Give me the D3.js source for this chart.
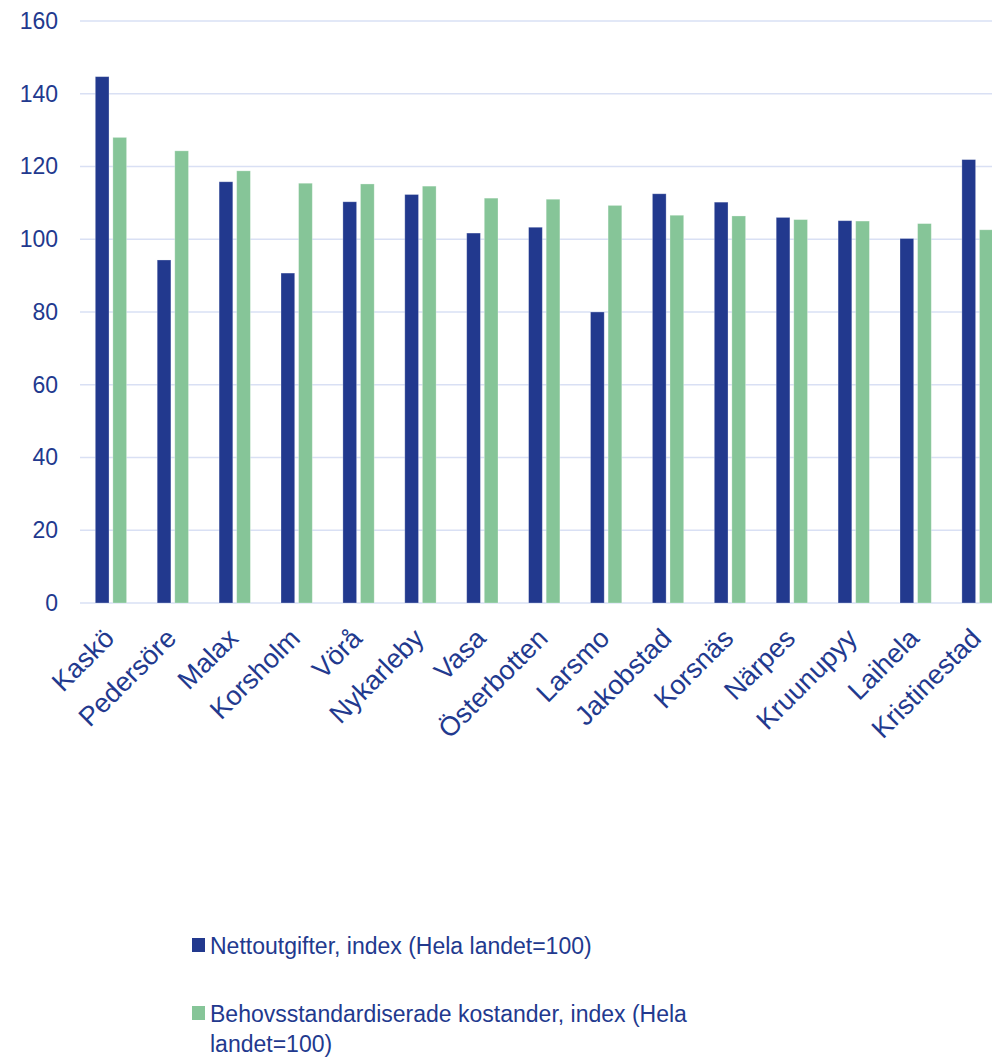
<!DOCTYPE html>
<html>
<head>
<meta charset="utf-8">
<script src="https://cdn.jsdelivr.net/npm/d3@7"></script>
<style>
  body { margin: 0; background: #ffffff; }
  svg { display: block; font-family: "Liberation Sans", Arial, sans-serif; }
</style>
</head>
<body>
<script>
// data
var categories = ["Kaskö", "Pedersöre", "Malax", "Korsholm", "Vörå", "Nykarleby", "Vasa",
  "Österbotten", "Larsmo", "Jakobstad", "Korsnäs", "Närpes", "Kruunupyy", "Laihela", "Kristinestad"];
var nettoutgifter = [144.7, 94.3, 115.8, 90.7, 110.3, 112.3, 101.7, 103.3, 80.0, 112.5, 110.2, 106.0, 105.1, 100.2, 121.9];
var behovs = [128.0, 124.3, 118.8, 115.4, 115.2, 114.6, 111.3, 111.0, 109.3, 106.6, 106.4, 105.4, 105.0, 104.3, 102.6];
var seriesNames = ["Nettoutgifter, index (Hela landet=100)",
  "Behovsstandardiserade kostander, index (Hela landet=100)"];
var seriesColors = ["#22398e", "#86c598"];
var yTicks = [0, 20, 40, 60, 80, 100, 120, 140, 160];

var W = 992, H = 1058;
var margin = {top: 21, left: 80, bottom: 455};
var plotW = 928.5, plotH = H - margin.top - margin.bottom;

var svg = d3.select("body").append("svg")
  .attr("width", W)
  .attr("height", H);

var g = svg.append("g")
  .attr("transform", "translate(" + margin.left + "," + margin.top + ")");

var x0 = d3.scaleBand().domain(categories).range([0, plotW]).padding(0);
var x1 = d3.scaleBand().domain([0, 1]).range([0, x0.bandwidth()])
  .paddingInner(0.22).paddingOuter(0.87);
var y = d3.scaleLinear().domain([0, 160]).range([plotH, 0]);

// gridlines
g.append("g")
  .selectAll("line")
  .data(yTicks)
  .enter().append("line")
  .attr("x1", 0)
  .attr("x2", W)
  .attr("y1", function(d) { return y(d); })
  .attr("y2", function(d) { return y(d); })
  .style("stroke", "#d9e0f4")
  .style("stroke-width", 1.5);

// y axis labels
var yAxis = g.append("g")
  .call(d3.axisLeft(y).tickValues(yTicks).tickSize(0).tickPadding(22));
yAxis.select(".domain").remove();
yAxis.selectAll("text")
  .style("font-size", "23px")
  .style("fill", "#22398e")
  .style("font-family", "'Liberation Sans', Arial, sans-serif");

// bars
var rows = categories.map(function(c, i) {
  return {cat: c, vals: [nettoutgifter[i], behovs[i]]};
});

var groups = g.selectAll(".grp")
  .data(rows)
  .enter().append("g")
  .attr("class", "grp")
  .attr("transform", function(d) { return "translate(" + x0(d.cat) + ",0)"; });

groups.selectAll("rect")
  .data(function(d) { return d.vals.map(function(v, k) { return {k: k, v: v}; }); })
  .enter().append("rect")
  .attr("x", function(d) { return x1(d.k); })
  .attr("width", x1.bandwidth())
  .attr("y", function(d) { return y(d.v); })
  .attr("height", function(d) { return plotH - y(d.v); })
  .style("fill", function(d) { return seriesColors[d.k]; })
  .style("stroke", "#ffffff")
  .style("stroke-opacity", 0.35)
  .style("stroke-width", 0.8);

// x labels, rotated
g.append("g")
  .selectAll("text")
  .data(categories)
  .enter().append("text")
  .attr("transform", function(d) {
    var cx = x0(d) + x0.bandwidth() / 2 + 5;
    return "translate(" + cx + "," + (plotH + 37) + ") rotate(-45)";
  })
  .style("text-anchor", "end")
  .style("font-size", "27px")
  .style("fill", "#22398e")
  .text(function(d) { return d; });

// legend
var legend = svg.append("g");
var legendRows = [
  {k: 0, lines: ["Nettoutgifter, index (Hela landet=100)"], y: 954},
  {k: 1, lines: ["Behovsstandardiserade kostander, index (Hela", "landet=100)"], y: 1022}
];
legendRows.forEach(function(r) {
  legend.append("rect")
    .attr("x", 192)
    .attr("y", r.y - 16)
    .attr("width", 13)
    .attr("height", 14)
    .style("fill", seriesColors[r.k]);
  var t = legend.append("text")
    .attr("x", 210)
    .attr("y", r.y)
    .style("font-size", "23px")
    .style("fill", "#22398e");
  r.lines.forEach(function(line, i) {
    t.append("tspan")
      .attr("x", 210)
      .attr("dy", i === 0 ? 0 : 30)
      .text(line);
  });
});
</script>
</body>
</html>
